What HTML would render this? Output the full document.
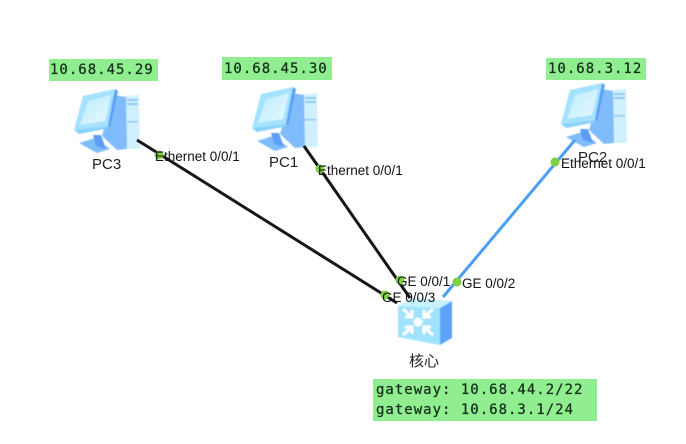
<!DOCTYPE html>
<html>
<head>
<meta charset="utf-8">
<style>
html,body{margin:0;padding:0;background:#fff;width:686px;height:444px;overflow:hidden}
svg{display:block}
.m{font-family:"DejaVu Sans Mono","Liberation Mono",monospace;font-size:14px;letter-spacing:1px;fill:#14301a;stroke:#14301a;stroke-width:.25px}
.l{font-family:"Liberation Sans",sans-serif;font-size:13.5px;fill:#111}
.n{font-family:"Liberation Sans","Noto Sans CJK SC",sans-serif;font-size:15px;fill:#222}
</style>
</head>
<body>
<svg width="686" height="444" viewBox="0 0 686 444" xmlns="http://www.w3.org/2000/svg">
<defs>
<filter id="b" x="-5%" y="-5%" width="110%" height="110%"><feGaussianBlur stdDeviation="0.4"/></filter>
<linearGradient id="s" x1="0" y1="0" x2="1" y2="1"><stop offset="0" stop-color="#b8ebff"/><stop offset="1" stop-color="#eafaff"/></linearGradient>
<g id="pc">
<polygon points="44,9 66,7 67,61 44,61" fill="#d0f0fe"/>
<rect x="54" y="11" width="11" height="2" fill="#8cc8f4"/>
<rect x="54" y="15" width="11" height="2" fill="#8cc8f4"/>
<rect x="54" y="33" width="11" height="1.5" fill="#8cc8f4"/>
<polygon points="41,7 53,9 54,61 44,62 29,48" fill="#80bcfc"/>
<polygon points="6,55 22,50 37,61 24,65" fill="#7fbcfb"/>
<polygon points="20,47 28,47 33,61 23,58" fill="#5c9ef6"/>
<polygon points="10,8 42,1 35,38 1,42" fill="#a4e2ff"/>
<polygon points="15,13 38,7 32,33 7,37" fill="url(#s)"/>
<polygon points="42,1 45,3 37,40 35,38" fill="#5c9ff7"/>
<polygon points="1,42 35,38 37,40 6,46" fill="#88d2fb"/>
</g>
</defs>
<rect x="49" y="59" width="109" height="22" fill="#90ee90"/>
<rect x="222" y="57" width="110" height="23" fill="#90ee90"/>
<rect x="546" y="58" width="100" height="22" fill="#90ee90"/>
<rect x="373" y="379" width="224" height="42" fill="#90ee90"/>
<text class="m" x="50" y="74">10.68.45.29</text>
<text class="m" x="224" y="73">10.68.45.30</text>
<text class="m" x="548" y="73">10.68.3.12</text>
<text class="m" x="376" y="394">gateway: 10.68.44.2/22</text>
<text class="m" x="376" y="414">gateway: 10.68.3.1/24</text>
<g filter="url(#b)">
<use href="#pc" x="73" y="88"/>
<use href="#pc" x="251" y="86"/>
<use href="#pc" x="560" y="82"/>
<g transform="translate(397,295)">
<polygon points="1,11 15,3 55,6 43,13" fill="#c8f2ff"/>
<polygon points="1,11 43,13 43,50 1,42" fill="#9fe3ff"/>
<polygon points="43,13 55,6 55,43 43,50" fill="#5da4f8"/>
<circle cx="21" cy="27" r="4.5" fill="#fff"/>
<g stroke="#fff" stroke-width="3" fill="none">
<path d="M6,14 L15,22 M15,15 V22 H8"/>
<path d="M36,14 L27,22 M27,15 V22 H34"/>
<path d="M6,40 L15,32 M15,39 V32 H8"/>
<path d="M36,40 L27,32 M27,39 V32 H34"/>
</g>
</g>
</g>
<line x1="137" y1="140" x2="397" y2="303" stroke="#161616" stroke-width="3"/>
<line x1="304" y1="146" x2="410" y2="298" stroke="#161616" stroke-width="3"/>
<line x1="575" y1="140" x2="443" y2="297" stroke="#4a9ff5" stroke-width="3"/>
<g fill="#80d040">
<circle cx="159" cy="155" r="4.5"/>
<circle cx="320" cy="169" r="4.5"/>
<circle cx="555" cy="162" r="4.5"/>
<circle cx="400" cy="280" r="4.5"/>
<circle cx="385" cy="295" r="4.5"/>
<circle cx="457" cy="282" r="4.5"/>
</g>
<text class="n" x="92" y="169">PC3</text>
<text class="n" x="269" y="167">PC1</text>
<text class="n" x="578" y="162">PC2</text>
<text class="n" x="409" y="366">核心</text>
<text class="l" x="155" y="161">Ethernet 0/0/1</text>
<text class="l" x="318" y="175">Ethernet 0/0/1</text>
<text class="l" x="561" y="168">Ethernet 0/0/1</text>
<text class="l" x="397" y="286">GE 0/0/1</text>
<text class="l" x="382" y="302">GE 0/0/3</text>
<text class="l" x="462" y="288">GE 0/0/2</text>
</svg>
</body>
</html>
